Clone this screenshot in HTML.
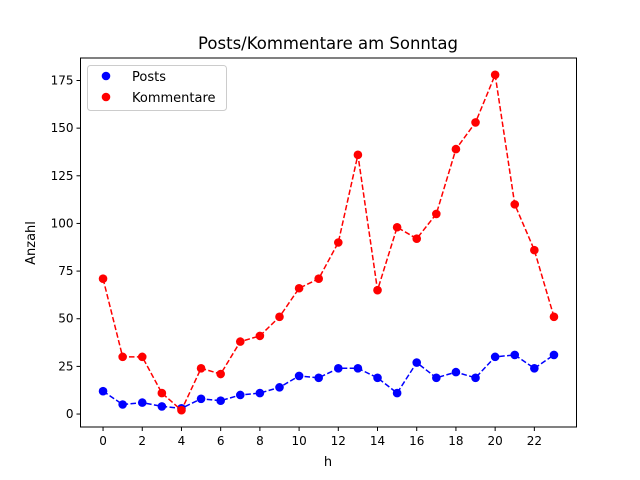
<!DOCTYPE html>
<html><head><meta charset="utf-8"><style>body{margin:0;background:#fff}svg{display:block;font-family:"DejaVu Sans","Liberation Sans",sans-serif}</style></head>
<body>
<svg id="c" width="640" height="480"></svg>
<script>
const hours=[0,1,2,3,4,5,6,7,8,9,10,11,12,13,14,15,16,17,18,19,20,21,22,23];
const posts=[12,5,6,4,3,8,7,10,11,14,20,19,24,24,19,11,27,19,22,19,30,31,24,31];
const comments=[71,30,30,11,2,24,21,38,41,51,66,71,90,136,65,98,92,105,139,153,178,110,86,51];
const xTicks=[0,2,4,6,8,10,12,14,16,18,20,22];
const yTicks=[0,25,50,75,100,125,150,175];
const L=80.5,R=576.5,T=58,B=427;
const all=posts.concat(comments);
const mn=Math.min(...all),mx=Math.max(...all),pad=(mx-mn)*0.05;
const y0=mn-pad,y1=mx+pad;
const xmin=hours[0]-(hours[hours.length-1]-hours[0])*0.05,xmax=hours[hours.length-1]+(hours[hours.length-1]-hours[0])*0.05;
const X=v=>L+(v-xmin)/(xmax-xmin)*(R-L);
const Y=v=>B-(v-y0)/(y1-y0)*(B-T);
const s=document.getElementById('c');const NS='http://www.w3.org/2000/svg';
function el(t,a,p){const e=document.createElementNS(NS,t);for(const k in a)e.setAttribute(k,a[k]);(p||s).appendChild(e);return e;}
let t=el('text',{x:328,y:49,'text-anchor':'middle','font-size':16.5});t.textContent='Posts/Kommentare am Sonntag';

xTicks.forEach(v=>{el('line',{x1:X(v),x2:X(v),y1:B,y2:B+4,stroke:'#000'});const q=el('text',{x:X(v),y:B+18,'text-anchor':'middle','font-size':12});q.textContent=v;
});
yTicks.forEach(v=>{el('line',{x1:L-4,x2:L,y1:Y(v),y2:Y(v),stroke:'#000'});const q=el('text',{x:L-7,y:Y(v)+4,'text-anchor':'end','font-size':12});q.textContent=v;
});
t=el('text',{x:328,y:466,'text-anchor':'middle','font-size':13});t.textContent='h';

t=el('text',{x:35,y:243,'text-anchor':'middle','font-size':13,transform:'rotate(-90 35 243)'});t.textContent='Anzahl';

function series(d,c,n){const g=el('g',{});
el('polyline',{points:d.map((v,i)=>X(hours[i])+','+Y(v)).join(' '),fill:'none',stroke:c,'stroke-width':1.5,'stroke-dasharray':'5.5,2.4'},g);
d.forEach((v,i)=>{const p=el('circle',{cx:X(hours[i]),cy:Y(v),r:4.3,fill:c},g);});}
series(posts,'#0000ff','posts-series');series(comments,'#ff0000','kommentare-series');
el('rect',{x:L,y:T,width:R-L,height:B-T,fill:'none',stroke:'#000','stroke-width':1});
const lg=el('g',{});
el('rect',{x:87.5,y:65.5,width:139,height:45,rx:3,fill:'#fff',stroke:'#ccc'},lg);
el('circle',{cx:106,cy:76,r:4.3,fill:'#0000ff'},lg);t=el('text',{x:132,y:81,'font-size':13},lg);t.textContent='Posts';
el('circle',{cx:106,cy:97,r:4.3,fill:'#ff0000'},lg);t=el('text',{x:132,y:102,'font-size':13},lg);t.textContent='Kommentare';
</script>
</body></html>
